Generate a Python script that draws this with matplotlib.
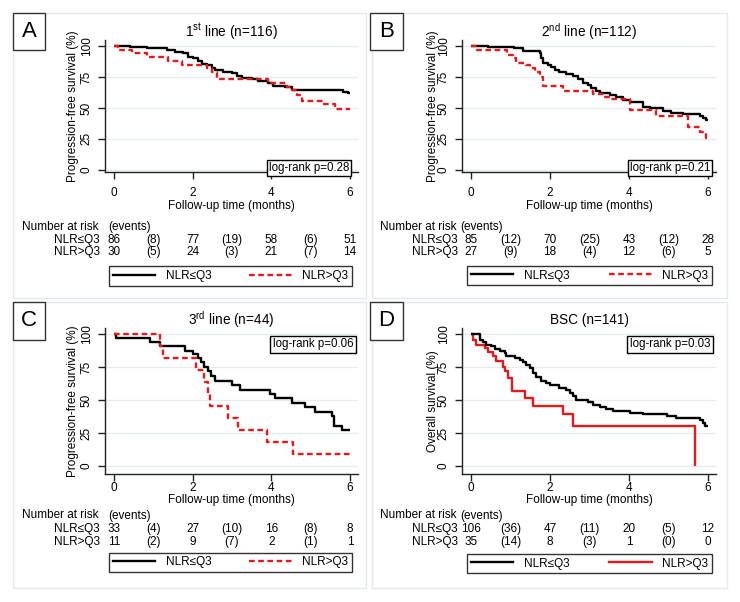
import matplotlib
matplotlib.use("Agg")
import matplotlib.pyplot as plt
from matplotlib.patches import Rectangle
from matplotlib.lines import Line2D
from matplotlib.transforms import blended_transform_factory

plt.rcParams['font.family'] = ['Liberation Sans', 'DejaVu Sans']
plt.rcParams['mathtext.fontset'] = 'custom'
plt.rcParams['mathtext.rm'] = 'Liberation Sans'
plt.rcParams['mathtext.it'] = 'Liberation Sans:italic'

# ---------------- data ----------------
panel_tags = ["A", "B", "C", "D"]
titles = ["1$^{\\mathrm{st}}$ line (n=116)", "2$^{\\mathrm{nd}}$ line (n=112)",
          "3$^{\\mathrm{rd}}$ line (n=44)", "BSC (n=141)"]
ylabels = ["Progression-free survival (%)", "Progression-free survival (%)",
           "Progression-free survival (%)", "Overall survival (%)"]
pvalue_texts = ["log-rank p=0.28", "log-rank p=0.21", "log-rank p=0.06", "log-rank p=0.03"]
group_labels = ["NLR\u2264Q3", "NLR>Q3"]
xlabel = "Follow-up time (months)"
xticks = [0, 2, 4, 6]
yticks = [0, 25, 50, 75, 100]
risk_times = [0, 2, 4, 6]
event_times = [1, 3, 5]

# Kaplan-Meier curves (time in months, survival in %)
A_le_t = [0, 0.41, 0.83, 1.34, 1.55, 1.76, 1.89, 2.02, 2.14, 2.23, 2.36, 2.48, 2.57, 2.78, 2.99,
          3.12, 3.25, 3.50, 3.67, 3.92, 4.05, 4.35, 4.52, 5.83, 5.96, 6.0]
A_le_s = [100, 99, 98, 97, 95.5, 94, 91.5, 90, 87.5, 85.5, 84.5, 82, 80.5, 79, 78,
          76, 74.5, 73.5, 72, 70, 68, 66.5, 64.5, 63, 62, 62]
A_gt_t = [0, 0.1, 0.45, 0.83, 1.38, 1.72, 2.36, 2.48, 2.62, 3.92, 4.39, 4.52, 4.64, 4.77,
          5.32, 5.62, 6.0]
A_gt_s = [100, 97, 94, 91, 87.5, 84.5, 82, 79, 73.3, 70, 67, 64.5, 60.5, 55.5,
          53, 49, 49]

B_le_t = [0, 0.43, 1.10, 1.32, 1.74, 1.78, 1.82, 1.95, 2.03, 2.12, 2.24, 2.41, 2.58, 2.71,
          2.84, 2.96, 3.05, 3.17, 3.26, 3.51, 3.68, 3.85, 4.02, 4.35, 4.53, 4.86, 5.07, 5.37,
          5.79, 5.87, 5.96, 6.0]
B_le_s = [100, 99.5, 98, 96, 94, 90, 86, 84.5, 83, 80.5, 79, 77.5, 76, 73,
          70.5, 68.5, 66, 64, 62, 60.5, 58.5, 56.5, 54.5, 51, 49.5, 47.5, 46, 45,
          43.5, 41.5, 40, 40]
B_gt_t = [0, 0.14, 0.9, 1.06, 1.15, 1.4, 1.49, 1.61, 1.74, 1.82, 2.33, 3.09, 3.34, 3.51,
          4.02, 4.69, 5.49, 5.79, 5.96, 6.0]
B_gt_s = [100, 97, 92.5, 90, 86, 84.5, 82, 79, 75, 68, 63.5, 61.5, 59, 57,
          48, 43.5, 34.5, 30.5, 26, 26]

C_le_t = [0, 0.05, 0.92, 1.17, 1.8, 2.02, 2.14, 2.22, 2.3, 2.38, 2.47, 2.57, 2.99, 3.2,
          3.97, 4.09, 4.52, 4.86, 5.11, 5.53, 5.6, 5.79, 6.0]
C_le_s = [100, 97, 93.9, 90.9, 87.4, 84.8, 81.8, 78.5, 75, 72, 68.5, 64.6, 61.1, 57.8,
          54.8, 51.5, 47.7, 44.7, 40.9, 37.6, 30.6, 27, 27]
C_gt_t = [0, 1.17, 1.25, 2.08, 2.3, 2.38, 2.45, 2.9, 3.16, 3.9, 4.56, 6.0]
C_gt_s = [100, 90.9, 81.8, 72.7, 63.6, 54.5, 45.5, 36.4, 27.3, 18.2, 9.1, 9.1]

D_le_t = [0, 0.22, 0.30, 0.39, 0.51, 0.60, 0.73, 0.85, 0.89, 1.11, 1.23, 1.32, 1.40, 1.49,
          1.57, 1.65, 1.78, 1.91, 1.99, 2.24, 2.41, 2.50, 2.58, 2.67, 2.96, 3.09, 3.26, 3.43,
          3.59, 4.02, 4.35, 4.95, 5.20, 5.79, 5.87, 5.92, 6.0]
D_le_s = [100, 95.7, 93.9, 91.9, 90.7, 88.9, 87.4, 85.6, 83.1, 81.8, 80.6, 78.8, 76.8, 74.2,
          70.5, 67.2, 64.6, 62.9, 61.1, 59.1, 57.8, 55.3, 52.8, 50.3, 48.5, 46.5, 44.4, 43.2,
          41.9, 40.2, 39.5, 37.6, 36.4, 35.1, 32.6, 30.6, 30.6]
D_gt_t = [0, 0.05, 0.12, 0.35, 0.43, 0.56, 0.64, 0.81, 0.85, 0.94, 1.05, 1.36, 1.57, 2.33,
          2.58, 5.66]
D_gt_s = [100, 95.7, 91.9, 89.4, 86.4, 83.1, 79.3, 74.7, 71.7, 66.7, 56.6, 51.5, 45.2, 39.4,
          30.0, 0]

# numbers at risk / events
A_risk_le = [86, 77, 58, 51]; A_ev_le = [8, 19, 6]
A_risk_gt = [30, 24, 21, 14]; A_ev_gt = [5, 3, 7]
B_risk_le = [85, 70, 43, 28]; B_ev_le = [12, 25, 12]
B_risk_gt = [27, 18, 12, 5]; B_ev_gt = [9, 4, 6]
C_risk_le = [33, 27, 16, 8]; C_ev_le = [4, 10, 8]
C_risk_gt = [11, 9, 2, 1]; C_ev_gt = [2, 7, 1]
D_risk_le = [106, 47, 20, 12]; D_ev_le = [36, 11, 5]
D_risk_gt = [35, 8, 1, 0]; D_ev_gt = [14, 3, 0]

curves = [((A_le_t, A_le_s), (A_gt_t, A_gt_s)),
          ((B_le_t, B_le_s), (B_gt_t, B_gt_s)),
          ((C_le_t, C_le_s), (C_gt_t, C_gt_s)),
          ((D_le_t, D_le_s), (D_gt_t, D_gt_s))]
risks = [((A_risk_le, A_ev_le), (A_risk_gt, A_ev_gt)),
         ((B_risk_le, B_ev_le), (B_risk_gt, B_ev_gt)),
         ((C_risk_le, C_ev_le), (C_risk_gt, C_ev_gt)),
         ((D_risk_le, D_ev_le), (D_risk_gt, D_ev_gt))]
red_dashed = [True, True, True, False]

# ---------------- layout (pixels) ----------------
W, H = 740, 602
fig = plt.figure(figsize=(W / 100, H / 100), dpi=100)
fig.patch.set_facecolor('white')

def fx(x):
    return x / W

def fy(y):
    return 1 - y / H

RED = '#e3191c'
FS = 8.5
LW = 1.7

layouts = [
    dict(frame=(13, 13, 366, 298), tag=(13, 13, 45, 50), axes=(105.3, 39.8, 357.9, 172), ylim=(-1.8, 105),
         title_y=32, ylab_x=73, tick_pad=6.0, xlab_y=206, nar_y=227, row_y=(240, 252),
         leg=(109, 266, 352, 286), lr=(309, 168), nar_x=22, ev_x=108, row_x=100),
    dict(frame=(372, 13, 727, 298), tag=(370, 13, 403, 50), axes=(462.3, 39.8, 715.9, 172), ylim=(-1.8, 105),
         title_y=32, ylab_x=433, tick_pad=6.0, xlab_y=206, nar_y=227, row_y=(240, 252),
         leg=(467, 265, 712, 286), lr=(670, 168), nar_x=380, ev_x=460, row_x=458),
    dict(frame=(13, 302, 366, 588), tag=(13, 302, 45, 340), axes=(105.3, 328, 357.9, 473.5), ylim=(-5.7, 104.5),
         title_y=320, ylab_x=73, tick_pad=0.8, xlab_y=500, nar_y=515.5, row_y=(529, 542),
         leg=(109, 552, 352, 573), lr=(313, 344.5), nar_x=22, ev_x=108, row_x=100),
    dict(frame=(372, 302, 727, 588), tag=(370, 302, 403, 340), axes=(462.3, 328, 715.9, 473.5), ylim=(-5.7, 104.5),
         title_y=320, ylab_x=433, tick_pad=0.8, xlab_y=500, nar_y=515.5, row_y=(529, 542),
         leg=(467, 554, 712, 573), lr=(670, 344.5), nar_x=380, ev_x=460, row_x=458),
]

for i, L in enumerate(layouts):
    # panel frame
    x0, y0, x1, y1 = L['frame']
    fig.add_artist(Rectangle((fx(x0), fy(y1)), fx(x1) - fx(x0), fy(y0) - fy(y1),
                             transform=fig.transFigure, fill=False, ec='#e3e9ec', lw=1.0, zorder=0))
    # axes
    ax0, ay0, ax1, ay1 = L['axes']
    ax = fig.add_axes([fx(ax0), fy(ay1), fx(ax1) - fx(ax0), fy(ay0) - fy(ay1)])
    ax.patch.set_alpha(0)
    ax.set_xlim(-0.22, 6.2)
    ax.set_ylim(*L['ylim'])
    for s in ['top', 'right']:
        ax.spines[s].set_visible(False)
    for s in ['left', 'bottom']:
        ax.spines[s].set_linewidth(1.0)
        ax.spines[s].set_color('#222222')
    ax.set_xticks(xticks)
    ax.set_yticks(yticks)
    ax.tick_params(axis='x', length=5, width=1, color='#222222', labelsize=FS, pad=L['tick_pad'])
    ax.tick_params(axis='y', length=5, width=1, color='#222222', labelsize=FS, pad=4, labelrotation=90)
    for lab in ax.get_yticklabels():
        lab.set_va('center')
    ax.yaxis.grid(True, color='#e4ecf0', lw=0.9)
    ax.set_axisbelow(True)

    (t1, s1), (t2, s2) = curves[i]
    ax.step(t1, s1, where='post', color='black', lw=LW, solid_capstyle='butt', zorder=3)
    if red_dashed[i]:
        ax.step(t2, s2, where='post', color=RED, lw=LW, dashes=(2.4, 1.5), dash_capstyle='butt', zorder=4)
        h2 = Line2D([], [], color=RED, lw=LW, dashes=(2.4, 1.5), dash_capstyle='butt')
    else:
        ax.step(t2, s2, where='post', color=RED, lw=LW, solid_capstyle='butt', zorder=2)
        h2 = Line2D([], [], color=RED, lw=LW)
    h1 = Line2D([], [], color='black', lw=LW)

    cx = (ax0 + ax1) / 2
    # title
    fig.text(fx(cx), fy(L['title_y']), titles[i], ha='center', va='center', fontsize=9.8)
    # ylabel
    fig.text(fx(L['ylab_x']), fy((ay0 + ay1) / 2), ylabels[i], ha='center', va='center',
             rotation=90, fontsize=FS)
    # xlabel
    fig.text(fx(cx), fy(L['xlab_y']), xlabel, ha='center', va='center', fontsize=FS)
    # panel tag
    tx0, ty0, tx1, ty1 = L['tag']
    fig.add_artist(Rectangle((fx(tx0), fy(ty1)), fx(tx1) - fx(tx0), fy(ty0) - fy(ty1),
                             transform=fig.transFigure, fc='white', ec='#333333', lw=1.0, zorder=5))
    fig.text(fx((tx0 + tx1) / 2), fy((ty0 + ty1) / 2), panel_tags[i], ha='center', va='center',
             fontsize=16, zorder=6)
    # log-rank box
    fig.text(fx(L['lr'][0]), fy(L['lr'][1]), pvalue_texts[i], ha='center', va='center', fontsize=8.3,
             bbox=dict(boxstyle='square,pad=0.2', fc='white', ec='black', lw=1.0), zorder=6)

    # number at risk table
    fig.text(fx(L['nar_x']), fy(L['nar_y']), "Number at risk", ha='left', va='center', fontsize=FS)
    fig.text(fx(L['ev_x']), fy(L['nar_y']), "(events)", ha='left', va='center', fontsize=FS)
    tr = blended_transform_factory(ax.transData, fig.transFigure)
    for g in range(2):
        ry = fy(L['row_y'][g])
        fig.text(fx(L['row_x']), ry, group_labels[g], ha='right', va='center', fontsize=FS)
        nrisk, nev = risks[i][g]
        for t, n in zip(risk_times, nrisk):
            ax.text(t, ry, str(n), transform=tr, ha='center', va='center', fontsize=FS, clip_on=False)
        for t, e in zip(event_times, nev):
            ax.text(t, ry, "(%d)" % e, transform=tr, ha='center', va='center', fontsize=FS, clip_on=False)

    # legend
    lx0, ly0, lx1, ly1 = L['leg']
    leg = ax.legend([h1, h2], group_labels, ncol=2, loc='center',
                    bbox_to_anchor=(fx(lx0), fy(ly1), fx(lx1) - fx(lx0), fy(ly0) - fy(ly1)),
                    bbox_transform=fig.transFigure, mode='expand', frameon=True, fancybox=False,
                    edgecolor='black', handlelength=3.6, handletextpad=0.9, borderpad=0.3,
                    borderaxespad=0, fontsize=FS)
    leg.get_frame().set_linewidth(1.0)

fig.savefig("out.png", dpi=100, facecolor='white')
